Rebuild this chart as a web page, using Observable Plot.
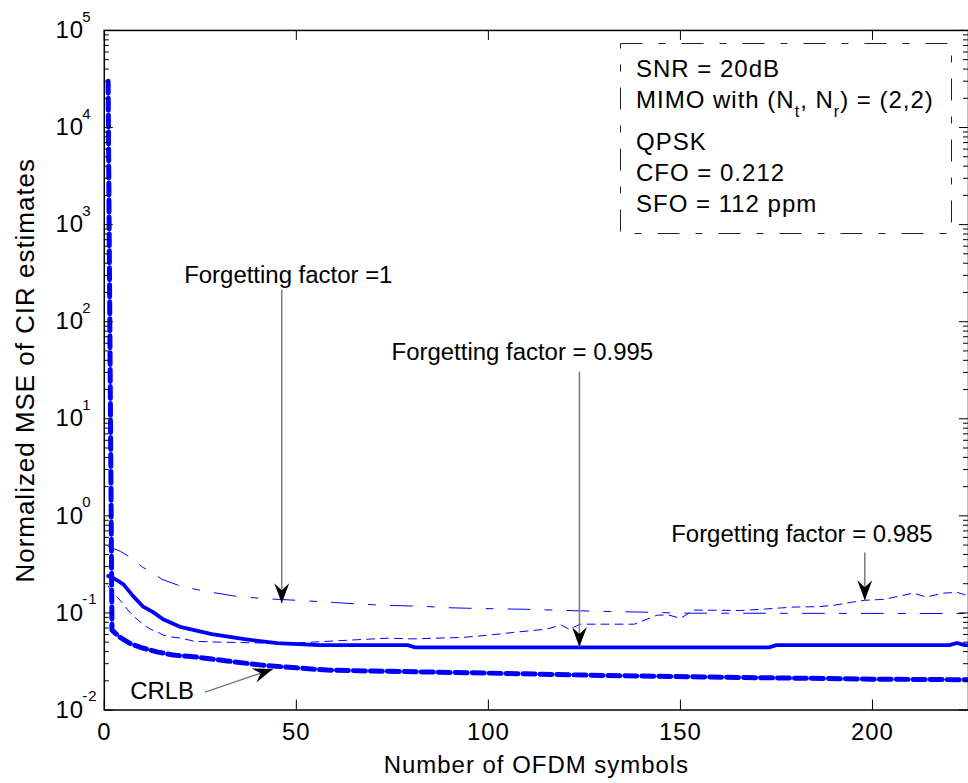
<!DOCTYPE html>
<html>
<head>
<meta charset="utf-8">
<script src="https://cdn.jsdelivr.net/npm/d3@7"></script>
<script src="https://cdn.jsdelivr.net/npm/@observablehq/plot@0.6"></script>
<style>
  html, body { margin: 0; padding: 0; background: #fff; overflow: hidden; }
  #wrap { position: relative; width: 968px; height: 783px; }
  #legend { position: absolute; left: 0; top: 0; pointer-events: none; }
  #legend text { font-family: "Liberation Sans", Arial, sans-serif; font-size: 24px; fill: #000; letter-spacing: 1px; }
</style>
</head>
<body>
<div id="wrap">
  <div id="chart"></div>
  <svg id="legend" width="968" height="783">
    <rect x="620.5" y="43.5" width="331" height="190" fill="none" stroke="#222" stroke-width="1" stroke-dasharray="22,16,7,16"></rect>
    <text x="636" y="77">SNR = 20dB</text>
    <text x="636" y="108">MIMO with (N<tspan font-size="16" dy="9">t</tspan><tspan dy="-9">, N</tspan><tspan font-size="16" dy="9">r</tspan><tspan dy="-9">) = (2,2)</tspan></text>
    <text x="636" y="150">QPSK</text>
    <text x="636" y="181">CFO = 0.212</text>
    <text x="636" y="212">SFO = 112 ppm</text>
  </svg>
</div>
<script>
// ---------- data ----------
const xTicks = [0, 50, 100, 150, 200];
const yExponents = [-2, -1, 0, 1, 2, 3, 4, 5];

// CRLB (thick dashed)
const crlb = [
  [1, 30000], [2, 0.0665], [4, 0.0564], [7, 0.0478], [10, 0.0435], [14, 0.0395],
  [18, 0.0368], [24, 0.0351], [32, 0.032], [41, 0.029], [50, 0.0272], [58, 0.0258],
  [70, 0.0252], [85, 0.0246], [100, 0.024], [125, 0.0229], [156, 0.0219],
  [200, 0.0208], [225, 0.0205]
];
// Forgetting factor = 0.995 (thick solid)
const ff0995 = [
  [1, 0.24], [2.4, 0.228], [5, 0.197], [7.5, 0.149], [10, 0.117], [12.7, 0.102],
  [15.3, 0.086], [20, 0.0714], [28, 0.0605], [36.5, 0.0537], [45, 0.0489],
  [56, 0.0466], [79, 0.0466], [81, 0.0441], [173, 0.0441], [175, 0.0466],
  [220, 0.0466], [222, 0.049], [224, 0.0466], [225, 0.0466]
];
// Forgetting factor = 1 (thin dash-dot)
const ff1 = [
  [1, 0.485], [4.2, 0.431], [6.8, 0.374], [10, 0.295], [12, 0.27], [15, 0.222],
  [20, 0.188], [26, 0.168], [34, 0.149], [42, 0.14], [50, 0.135], [60, 0.128],
  [67, 0.123], [73, 0.12], [83, 0.117], [90, 0.113], [98, 0.111], [110, 0.109],
  [124, 0.105], [140, 0.102], [150, 0.0995], [225, 0.0985]
];
// Forgetting factor = 0.985 (thin dashed)
const ff0985 = [
  [1, 0.19], [2, 0.163], [3.4, 0.145], [5, 0.123], [6, 0.109], [7.5, 0.093],
  [8.6, 0.086], [10, 0.0766], [12, 0.068], [14, 0.063], [15.4, 0.059],
  [17.7, 0.0564], [20, 0.055], [23.5, 0.051], [30, 0.05], [41, 0.049], [50, 0.049],
  [58, 0.051], [66, 0.053], [74, 0.055], [80, 0.054], [93.5, 0.056], [100, 0.059],
  [106.5, 0.063], [115, 0.068], [119, 0.075], [121, 0.068], [124, 0.0766],
  [138, 0.0766], [144, 0.095], [147, 0.095], [150, 0.088], [153.5, 0.107],
  [166, 0.106], [171, 0.109], [179.6, 0.115], [186, 0.116], [190, 0.12],
  [194.6, 0.129], [198, 0.135], [203, 0.138], [207, 0.149], [210.6, 0.16],
  [214, 0.146], [218.6, 0.16], [222, 0.163], [225, 0.15]
];
// Annotations: label anchor (tx, ty), arrow from (x1, y1) to tip (x2, y2)
const annotations = [
  {label: "Forgetting factor =1",     tx: 20.8,  ty: 303,    x1: 46.2,  y1: 214,    x2: 46.2,  y2: 0.126},
  {label: "Forgetting factor = 0.995", tx: 74.8, ty: 47.8,   x1: 123.7, y1: 30.5,   x2: 123.7, y2: 0.0445},
  {label: "Forgetting factor = 0.985", tx: 147.6, ty: 0.646, x1: 198,   y1: 0.42,   x2: 198,   y2: 0.135},
  {label: "CRLB",                      tx: 6.75, ty: 0.0157, x1: 26.2,  y1: 0.0153, x2: 43.9,  y2: 0.0264}
];

// ---------- layout ----------
const W = 970, H = 783, ML = 104, MR = 0, MT = 30, MB = 72;
const PW = W - ML - MR, PH = H - MT - MB;
const xDomain = [0, 225], yDomain = [1e-2, 1e5];

const yMajor = yExponents.map(e => 10 ** e);
const yMinor = [];
for (const e of yExponents.slice(0, -1)) for (let m = 2; m <= 9; ++m) yMinor.push(m * 10 ** e);

// arrowhead symbol (tip at origin) pointing along angle theta
function headSymbol(theta) {
  const L = 20, Wd = 7.5, N = 13;
  const c = Math.cos(theta), s = Math.sin(theta);
  const pts = [[0, 0], [-L, -Wd], [-N, 0], [-L, Wd]].map(([x, y]) => [x * c - y * s, x * s + y * c]);
  return {draw(ctx) {
    ctx.moveTo(pts[0][0], pts[0][1]);
    for (let i = 1; i < pts.length; ++i) ctx.lineTo(pts[i][0], pts[i][1]);
    ctx.closePath();
  }};
}
const sx = d3.scaleLinear(xDomain, [ML, W - MR]);
const sy = d3.scaleLog(yDomain, [H - MB, MT]);

const blue = "#0000ff";
const font = "Liberation Sans, Arial, Helvetica, sans-serif";

const marks = [
  // curves
  Plot.line(ff1, {x: d => d[0], y: d => d[1], stroke: blue, strokeWidth: 1, strokeDasharray: "22,15,7,15"}),
  Plot.line(ff0985, {x: d => d[0], y: d => d[1], stroke: blue, strokeWidth: 1, strokeDasharray: "8,6"}),
  Plot.line(ff0995, {x: d => d[0], y: d => d[1], stroke: blue, strokeWidth: 3.8}),
  Plot.line(crlb, {x: d => d[0], y: d => d[1], stroke: blue, strokeWidth: 5, strokeDasharray: "12,5"}),
  // inside ticks
  Plot.ruleY(yMajor, {stroke: "black", strokeWidth: 1, insetRight: PW - 9}),
  Plot.ruleY(yMajor, {stroke: "black", strokeWidth: 1, insetLeft: PW - 9}),
  Plot.ruleY(yMinor, {stroke: "black", strokeWidth: 1, insetRight: PW - 5}),
  Plot.ruleY(yMinor, {stroke: "black", strokeWidth: 1, insetLeft: PW - 5}),
  Plot.ruleX(xTicks, {stroke: "black", strokeWidth: 1, insetTop: PH - 10}),
  Plot.ruleX(xTicks, {stroke: "black", strokeWidth: 1, insetBottom: PH - 10}),
  Plot.frame({stroke: "black", strokeWidth: 1.5}),
  // x tick labels
  Plot.axisX(xTicks, {tickSize: 0, tickPadding: 13, fontSize: 24, label: null}),
  // y tick labels 10^e
  Plot.text(yExponents, {y: d => 10 ** d, frameAnchor: "left", text: () => "10", textAnchor: "start", lineAnchor: "middle", dx: -49, fontSize: 24, fill: "black"}),
  Plot.text(yExponents, {y: d => 10 ** d, frameAnchor: "left", text: d => String(d), textAnchor: "start", lineAnchor: "middle", dx: -22, dy: -13.5, fontSize: 15, fill: "black"}),
  // axis titles
  Plot.text(["Normalized MSE of CIR estimates"], {frameAnchor: "left", rotate: -90, textAnchor: "middle", lineAnchor: "middle", dx: -79, fontSize: 26, fill: "black"}),
  Plot.text(["Number of OFDM symbols"], {frameAnchor: "bottom", textAnchor: "middle", lineAnchor: "middle", dy: 55, fontSize: 24, fill: "black"}),
  // annotations
  Plot.link(annotations, {x1: "x1", y1: "y1", x2: "x2", y2: "y2", stroke: "#7a7a7a", strokeWidth: 1.5}),
  Plot.dot(annotations.slice(0, 3), {x: "x2", y: "y2", r: 6, symbol: headSymbol(Math.PI / 2), fill: "black", stroke: "none"}),
  Plot.dot(annotations.slice(3), {x: "x2", y: "y2", r: 6,
    symbol: headSymbol(Math.atan2(sy(annotations[3].y2) - sy(annotations[3].y1), sx(annotations[3].x2) - sx(annotations[3].x1))),
    fill: "black", stroke: "none"}),
  Plot.text(annotations, {x: "tx", y: "ty", text: "label", textAnchor: "start", lineAnchor: "middle", fontSize: 24, fill: "black", ariaDescription: "annotation labels"})
];

const chart = Plot.plot({
  width: W, height: H,
  marginLeft: ML, marginRight: MR, marginTop: MT, marginBottom: MB,
  style: {fontFamily: font, fontSize: "24px", background: "white", color: "black", overflow: "visible", letterSpacing: "1px"},
  x: {type: "linear", domain: xDomain, axis: null},
  y: {type: "log", domain: yDomain, axis: null},
  marks
});
chart.querySelectorAll('g[aria-description="annotation labels"]').forEach(g => g.style.letterSpacing = "0px");
document.getElementById("chart").appendChild(chart);
</script>
</body>
</html>
